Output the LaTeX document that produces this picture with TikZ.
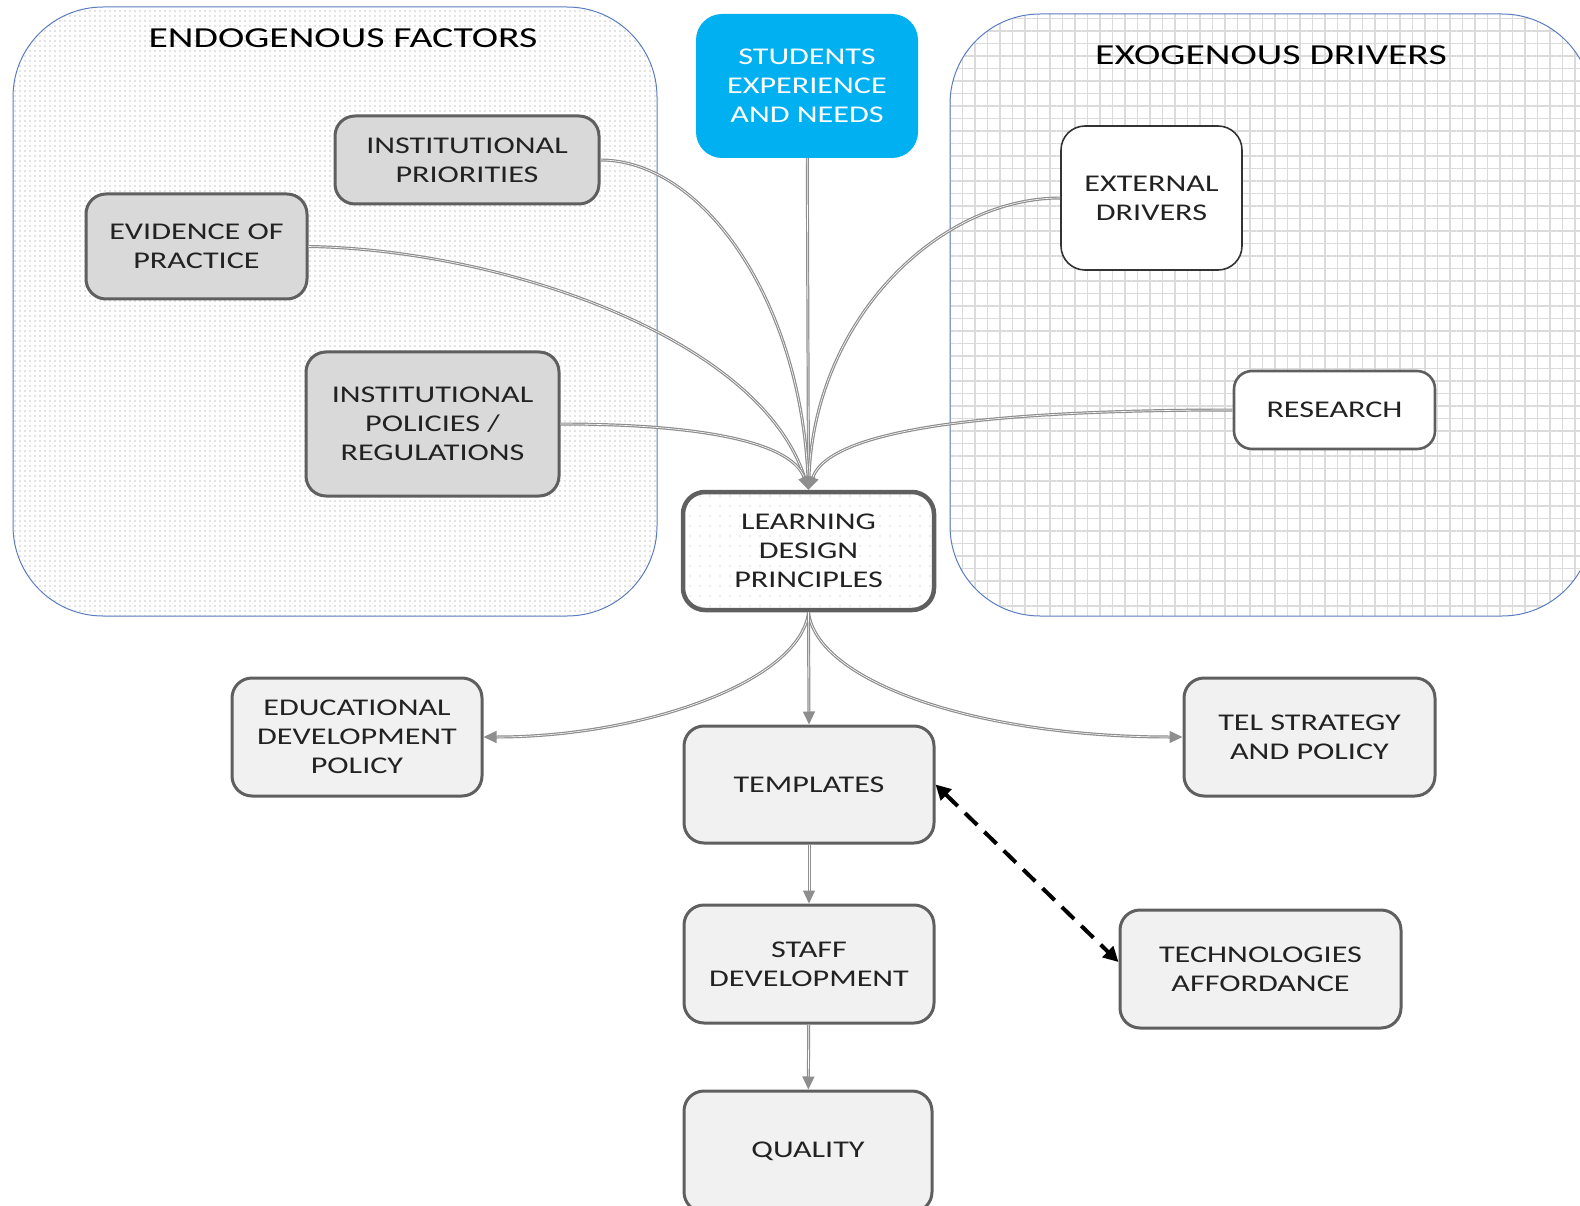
\documentclass[tikz,border=0pt]{standalone}
\usepackage{fontspec}
\setmainfont{Carlito}[FakeStretch=1.34]
\newfontfamily\titlefont{Carlito}[FakeStretch=1.37]
\usetikzlibrary{arrows.meta,patterns.meta}
\definecolor{boxline}{HTML}{5F5F5F}
\definecolor{darkfill}{HTML}{D9D9D9}
\definecolor{lightfill}{HTML}{F1F1F1}
\definecolor{regionline}{HTML}{5B7DBF}
\definecolor{studentblue}{HTML}{00B0F0}
\definecolor{linkgray}{HTML}{8E8E8E}
\definecolor{txt}{HTML}{222222}
\tikzset{
  boxtext/.style={font=\fontsize{24}{29}\selectfont, text=txt, align=center},
  gbox/.style={boxtext, rounded corners=20pt, draw=boxline, line width=3pt, fill=darkfill},
  lbox/.style={boxtext, rounded corners=20pt, draw=boxline, line width=3pt, fill=lightfill},
  wbox/.style={boxtext, rounded corners=24pt, draw=black!80, line width=1.6pt, fill=white},
  region/.style={draw=regionline, line width=1pt, rounded corners=90pt},
  regiontitle/.style={font=\titlefont\fontsize{29}{34}\selectfont, text=black},
  conn/.style={draw=linkgray, line width=1.2pt, double=white, double distance=0.6pt,
    -{Triangle[length=13pt,width=12pt,fill=linkgray]}},
  feedback/.style={draw=black, line width=4pt, dash pattern=on 17pt off 10pt,
    {Triangle[length=15pt,width=15pt]}-{Triangle[length=15pt,width=15pt]}}
}
\begin{document}
\begin{tikzpicture}[x=1pt,y=-1pt]
\path[use as bounding box] (0,0) rectangle (1580,1206);
\clip (0,0) rectangle (1580,1206);

% background regions
\path[region, pattern={Dots[distance=5pt,radius=0.7pt]}, pattern color=gray!95]
  (13,7) rectangle (657,616);
\path[region, pattern={Hatch[distance=12.5pt,angle=0,line width=1.4pt]}, pattern color=gray!28]
  (950,14) rectangle (1592,616);
\node[regiontitle] (endotitle) at (343,38) {ENDOGENOUS FACTORS};
\node[regiontitle] (exotitle) at (1271,55) {EXOGENOUS DRIVERS};

% influences
\node[boxtext, text=white, rounded corners=26pt, fill=studentblue,
  minimum width=222pt, minimum height=144pt] (students) at (807,86)
  {STUDENTS\\EXPERIENCE\\AND NEEDS};
\node[gbox, minimum width=264pt, minimum height=88pt] (priorities) at (467,160)
  {INSTITUTIONAL\\PRIORITIES};
\node[gbox, minimum width=221pt, minimum height=105pt] (evidence) at (196.5,246.5)
  {EVIDENCE OF\\PRACTICE};
\node[gbox, minimum width=253pt, minimum height=144pt] (policies) at (432.5,424)
  {INSTITUTIONAL\\POLICIES /\\REGULATIONS};
\node[wbox, minimum width=181pt, minimum height=144pt] (external) at (1151.5,198)
  {EXTERNAL\\DRIVERS};
\node[wbox, rounded corners=18pt, draw=boxline, line width=2.6pt,
  minimum width=201pt, minimum height=78pt] (research) at (1334.5,410)
  {RESEARCH};

% core
\node[boxtext, rounded corners=22pt, draw=boxline, line width=4.5pt,
  pattern={Dots[distance=10pt,radius=0.6pt]}, pattern color=gray!60,
  minimum width=251pt, minimum height=118pt] (ldp) at (808.5,551)
  {LEARNING\\DESIGN\\PRINCIPLES};

% outcomes
\node[lbox, minimum width=250pt, minimum height=118pt] (edp) at (357,737)
  {EDUCATIONAL\\DEVELOPMENT\\POLICY};
\node[lbox, minimum width=250pt, minimum height=117pt] (templates) at (809,784.5)
  {TEMPLATES};
\node[lbox, minimum width=251pt, minimum height=118pt] (tel) at (1309.5,737)
  {TEL STRATEGY\\AND POLICY};
\node[lbox, minimum width=250pt, minimum height=118pt] (staff) at (809,964)
  {STAFF\\DEVELOPMENT};
\node[lbox, minimum width=281pt, minimum height=118pt] (tech) at (1260.5,969)
  {TECHNOLOGIES\\AFFORDANCE};
\node[lbox, minimum width=248pt, minimum height=121pt] (quality) at (808,1151.5)
  {QUALITY};

% links into the design principles
\draw[conn] (students) -- (ldp.north);
\draw[conn] (priorities.east) .. controls +(101,0) and +(-8.5,-192) .. (ldp.north);
\draw[conn] (evidence.east) .. controls +(193,3) and +(-48.5,-152) .. (ldp.north);
\draw[conn] (policies.east) .. controls +(121,0) and +(-18.5,-52) .. (ldp.north);
\draw[conn] (external.west) .. controls +(-121,0) and +(6.5,-172) .. (ldp.north);
\draw[conn] (research.west) .. controls +(-234,0) and +(21.5,-62) .. (ldp.north);

% links out of the design principles
\draw[conn] (ldp.south) .. controls +(-8.5,70) and +(158,0) .. (edp.east);
\draw[conn] (ldp.south) .. controls +(8.5,70) and +(-204,0) .. (tel.west);
\draw[conn] (ldp.south) -- (templates.north);
\draw[conn] (templates) -- (staff);
\draw[conn] (staff) -- (quality);

% two-way link with technologies
\draw[feedback] (templates.east) -- ([yshift=7pt]tech.west);
\end{tikzpicture}
\end{document}
